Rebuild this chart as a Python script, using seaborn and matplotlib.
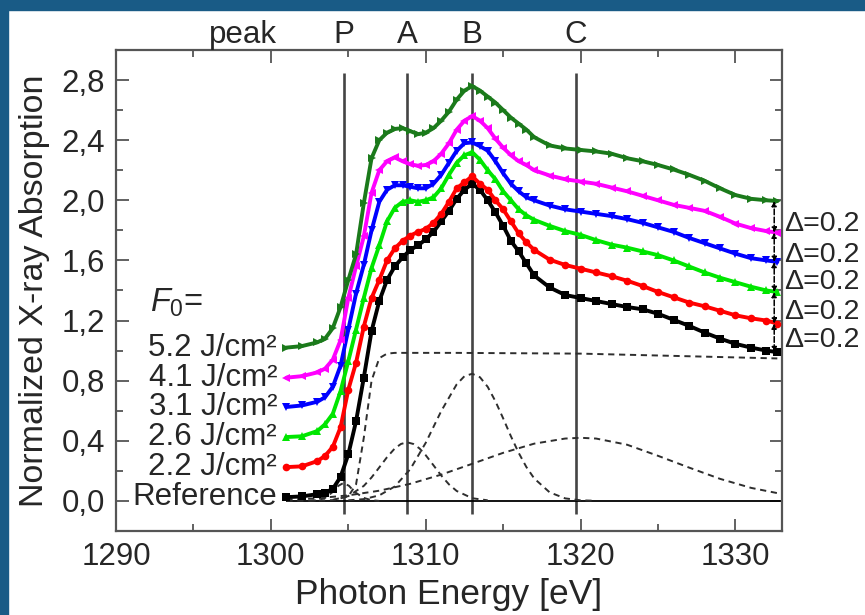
import matplotlib
matplotlib.use("Agg")
import matplotlib.pyplot as plt
import matplotlib.transforms as mtransforms
from matplotlib.patches import Rectangle
from matplotlib.ticker import MultipleLocator, FuncFormatter
import pandas as pd
import seaborn as sns

# ---- measured spectra (offset by 0.2 per fluence) ----
energy = [1301, 1302, 1303, 1303.5, 1304, 1304.5, 1305, 1305.5, 1306, 1306.5,
          1307, 1307.5, 1308, 1308.5, 1309, 1309.5, 1310, 1310.5, 1311, 1311.5,
          1312, 1312.5, 1313, 1313.5, 1314, 1314.5, 1315, 1315.5, 1316, 1316.5,
          1317, 1318, 1319, 1320, 1321, 1322, 1323, 1324, 1325, 1326,
          1327, 1328, 1329, 1330, 1331, 1332, 1332.7]

reference = [0.025, 0.03, 0.045, 0.055, 0.08, 0.16, 0.31, 0.53, 0.82, 1.13,
             1.33, 1.47, 1.56, 1.62, 1.67, 1.70, 1.74, 1.79, 1.86, 1.93,
             2.01, 2.07, 2.11, 2.07, 2.00, 1.92, 1.83, 1.73, 1.66, 1.58,
             1.50, 1.42, 1.37, 1.35, 1.33, 1.31, 1.29, 1.275, 1.245, 1.205,
             1.165, 1.12, 1.08, 1.045, 1.02, 1.00, 0.99]

fluence_2p2 = [0.225, 0.23, 0.265, 0.30, 0.36, 0.49, 0.74, 0.92, 1.16, 1.35,
               1.47, 1.60, 1.68, 1.73, 1.765, 1.79, 1.81, 1.85, 1.91, 1.99,
               2.08, 2.12, 2.16, 2.11, 2.07, 2.00, 1.94, 1.86, 1.78, 1.72,
               1.67, 1.605, 1.57, 1.545, 1.52, 1.495, 1.465, 1.43, 1.39, 1.355,
               1.32, 1.295, 1.265, 1.235, 1.215, 1.20, 1.18]

fluence_2p6 = [0.425, 0.43, 0.465, 0.51, 0.58, 0.73, 0.93, 1.14, 1.35, 1.55,
               1.70, 1.86, 1.95, 1.99, 2.00, 1.99, 2.00, 2.02, 2.08, 2.17,
               2.25, 2.30, 2.32, 2.27, 2.20, 2.14, 2.06, 2.00, 1.94, 1.90,
               1.87, 1.83, 1.795, 1.77, 1.735, 1.705, 1.685, 1.66, 1.635, 1.60,
               1.56, 1.52, 1.485, 1.455, 1.425, 1.40, 1.39]

fluence_3p1 = [0.625, 0.635, 0.66, 0.69, 0.76, 0.90, 1.14, 1.38, 1.57, 1.80,
               1.99, 2.07, 2.10, 2.10, 2.09, 2.08, 2.08, 2.11, 2.17, 2.25,
               2.33, 2.38, 2.385, 2.36, 2.33, 2.26, 2.18, 2.11, 2.06, 2.02,
               2.00, 1.965, 1.94, 1.925, 1.91, 1.895, 1.875, 1.85, 1.82, 1.79,
               1.75, 1.715, 1.68, 1.645, 1.615, 1.60, 1.59]

fluence_4p1 = [0.82, 0.83, 0.855, 0.88, 0.94, 1.07, 1.35, 1.56, 1.76, 2.05,
               2.20, 2.26, 2.285, 2.26, 2.24, 2.23, 2.235, 2.26, 2.31, 2.38,
               2.47, 2.53, 2.56, 2.53, 2.48, 2.41, 2.35, 2.30, 2.26, 2.235,
               2.20, 2.165, 2.14, 2.125, 2.11, 2.085, 2.06, 2.03, 2.00, 1.97,
               1.95, 1.93, 1.89, 1.845, 1.815, 1.795, 1.785]

fluence_5p2 = [1.02, 1.03, 1.055, 1.08, 1.15, 1.29, 1.47, 1.64, 1.98, 2.28,
               2.40, 2.45, 2.475, 2.48, 2.46, 2.44, 2.45, 2.48, 2.53, 2.59,
               2.67, 2.73, 2.76, 2.73, 2.69, 2.65, 2.60, 2.55, 2.51, 2.47,
               2.42, 2.365, 2.345, 2.335, 2.325, 2.31, 2.28, 2.26, 2.235, 2.205,
               2.17, 2.13, 2.08, 2.035, 2.01, 2.00, 1.995]

series_labels = ["Reference", "2.2 J/cm²", "2.6 J/cm²", "3.1 J/cm²",
                 "4.1 J/cm²", "5.2 J/cm²"]
series_values = [reference, fluence_2p2, fluence_2p6, fluence_3p1,
                 fluence_4p1, fluence_5p2]
series_colors = ["#000000", "#ff0000", "#00e600", "#0000ff", "#ff00ff", "#1b7a1b"]
series_markers = ["s", "o", "^", "v", "<", ">"]

# ---- fit components of the reference spectrum ----
edge_energy = [1301, 1304, 1305, 1305.5, 1306, 1306.5, 1307, 1307.5, 1308,
               1312, 1320, 1326, 1332.7]
edge_step = [0.0, 0.005, 0.03, 0.11, 0.42, 0.80, 0.95, 0.98, 0.985,
             0.985, 0.98, 0.965, 0.948]

peak_p_energy = [1302.5, 1303, 1303.5, 1304, 1304.35, 1304.7, 1305.05, 1305.4,
                 1306, 1306.5, 1307]
peak_p = [0.0, 0.005, 0.02, 0.06, 0.10, 0.12, 0.10, 0.06, 0.02, 0.005, 0.0]

peak_a_energy = [1304, 1305, 1306, 1306.5, 1307, 1307.5, 1308, 1308.4, 1308.8,
                 1309.2, 1309.6, 1310, 1310.5, 1311, 1311.5, 1312, 1313, 1314]
peak_a = [0.007, 0.032, 0.10, 0.156, 0.223, 0.291, 0.349, 0.379, 0.39,
          0.379, 0.349, 0.304, 0.237, 0.169, 0.11, 0.066, 0.018, 0.004]

peak_b_energy = [1305, 1306, 1307, 1308, 1309, 1310, 1311, 1312, 1312.5, 1313,
                 1313.5, 1314, 1314.5, 1315, 1315.5, 1316, 1316.5, 1317, 1318,
                 1319, 1320, 1321]
peak_b = [0.004, 0.012, 0.037, 0.096, 0.211, 0.387, 0.598, 0.776, 0.83, 0.846,
          0.823, 0.759, 0.663, 0.549, 0.43, 0.32, 0.225, 0.15, 0.057,
          0.017, 0.004, 0.001]

peak_c_energy = [1301, 1303, 1305, 1307, 1309, 1311, 1313, 1315, 1317, 1319,
                 1320, 1321, 1323, 1325, 1327, 1329, 1331, 1332.7]
peak_c = [0.008, 0.018, 0.037, 0.068, 0.114, 0.175, 0.247, 0.32, 0.381, 0.415,
          0.42, 0.415, 0.374, 0.30, 0.222, 0.147, 0.087, 0.052]

feature_names = ["P", "A", "B", "C"]
feature_energy = [1304.7, 1308.8, 1313.0, 1319.7]
offset_text = "Δ=0.2"
offset_text_y = [1.845, 1.635, 1.455, 1.255, 1.07]

# ---- style ----
sns.set_theme(style="ticks")
plt.rcParams["font.family"] = ["Liberation Sans", "DejaVu Sans"]
plt.rcParams["mathtext.fontset"] = "custom"
plt.rcParams["mathtext.rm"] = "Liberation Sans"
plt.rcParams["mathtext.it"] = "Liberation Sans:italic"
plt.rcParams["axes.edgecolor"] = "#555555"
plt.rcParams["axes.linewidth"] = 1.6

FS = 22.5

fig = plt.figure(figsize=(8.65, 6.15), dpi=100)
ax = fig.add_axes([0.1341, 0.1366, 0.7699, 0.7821])

rows = []
for name, vals in zip(series_labels, series_values):
    for e, v in zip(energy, vals):
        rows.append({"energy": e, "absorption": v, "sample": name})
spectra = pd.DataFrame(rows)

sns.lineplot(data=spectra, x="energy", y="absorption", hue="sample",
             style="sample", hue_order=series_labels, style_order=series_labels,
             palette=dict(zip(series_labels, series_colors)),
             markers=dict(zip(series_labels, series_markers)), dashes=False,
             markersize=5.5, markeredgewidth=0, linewidth=2.8, errorbar=None,
             sort=False, legend=False, ax=ax, zorder=3)

# fit components
dash = (0, (3.2, 2.4))
for xs, ys in [(edge_energy, edge_step), (peak_p_energy, peak_p),
               (peak_a_energy, peak_a), (peak_b_energy, peak_b),
               (peak_c_energy, peak_c)]:
    ax.plot(xs, ys, linestyle=dash, color="#2e2e2e", lw=1.4, zorder=2)

# feature markers and baseline
ax.vlines(feature_energy, -0.09, 2.85, color="#444444", lw=1.9, zorder=1)
ax.hlines(0.0, energy[0], 1333, color="black", lw=1.3, zorder=1)

xy_top = mtransforms.blended_transform_factory(ax.transData, ax.transAxes)
for name, e in zip(feature_names, feature_energy):
    ax.text(e, 1.014, name, transform=xy_top, ha="center", va="baseline",
            fontsize=FS)
ax.text(1298.2, 1.014, "peak", transform=xy_top, ha="center", va="baseline",
        fontsize=FS)

# series labels at the start of each curve
for name, vals in zip(series_labels, series_values):
    ax.text(1300.4, vals[0], name, ha="right", va="center", fontsize=FS)
ax.text(1292.2, 1.32, r"$F_0$=", ha="left", va="center", fontsize=FS + 1)

# offset arrows at the high-energy end
ends = [vals[-1] for vals in series_values]
x_arrow = 1332.5
for lo, hi in zip(ends[:-1], ends[1:]):
    ax.annotate("", xy=(x_arrow, hi), xytext=(x_arrow, lo),
                arrowprops=dict(arrowstyle="<|-|>", color="black", lw=1.1,
                                linestyle="--", shrinkA=0, shrinkB=0,
                                mutation_scale=7), zorder=4)

ax_right = mtransforms.blended_transform_factory(ax.transAxes, ax.transData)
for y in offset_text_y:
    ax.text(1.003, y, offset_text, transform=ax_right, ha="left", va="center",
            fontsize=20.5, clip_on=False)

# axes
ax.set_xlim(1290, 1333)
ax.set_ylim(-0.2, 3.0)
ax.xaxis.set_major_locator(MultipleLocator(10))
ax.xaxis.set_minor_locator(MultipleLocator(5))
ax.yaxis.set_major_locator(MultipleLocator(0.4))
ax.yaxis.set_minor_locator(MultipleLocator(0.2))
ax.yaxis.set_major_formatter(
    FuncFormatter(lambda v, p: f"{abs(v):.1f}".replace(".", ",")))
ax.tick_params(which="both", direction="in", top=True, right=True,
               color="#555555", width=1.3, labelsize=FS, pad=8)
ax.tick_params(which="major", length=9)
ax.tick_params(which="minor", length=5)
ax.set_xlabel("Photon Energy [eV]", fontsize=25.5, labelpad=4)
ax.set_ylabel("Normalized X-ray Absorption", fontsize=24.5, labelpad=8)

# page frame
fig.patches.append(Rectangle((0, 0), 8 / 865, 1, transform=fig.transFigure,
                             color="#195b86", zorder=0))
fig.patches.append(Rectangle((0, 1 - 10 / 615), 1, 10 / 615,
                             transform=fig.transFigure, color="#195b86",
                             zorder=0))

fig.savefig("out.png", dpi=100)
